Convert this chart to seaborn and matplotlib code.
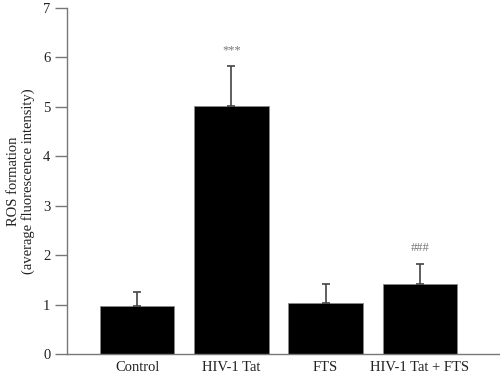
import numpy as np
import pandas as pd
import matplotlib
matplotlib.use("Agg")
import matplotlib.pyplot as plt
import seaborn as sns

groups = ["Control", "HIV-1 Tat", "FTS", "HIV-1 Tat + FTS"]
means = [0.98, 5.02, 1.04, 1.42]
errors = [0.28, 0.80, 0.37, 0.41]
marks = ["", "***", "", "###"]

df = pd.DataFrame({"group": groups, "ros": means})

sns.set_style("white")
plt.rcParams["font.family"] = ["Liberation Serif", "DejaVu Serif"]

fig = plt.figure(figsize=(5, 3.78), dpi=100)
ax = fig.add_axes([0.134, 0.063, 0.866, 0.916])

sns.barplot(data=df, x="group", y="ros", color="black", width=0.79,
            saturation=1, edgecolor="#888888", linewidth=0.6, ax=ax)

x = np.arange(len(groups))
ax.errorbar(x, means, yerr=[np.zeros(len(errors)), errors], fmt="none",
            ecolor="#444444", elinewidth=1.2, capsize=3, capthick=1.2)

for xi, m, e, t in zip(x, means, errors, marks):
    if t:
        ax.text(xi, m + e + 0.2, t, ha="center", va="bottom",
                fontsize=9, color="#777777")

ax.set_ylim(0, 7)
ax.set_xlim(-0.745, 3.85)
ax.set_yticks(range(0, 8))
ax.set_xlabel("")
ax.set_ylabel("ROS formation\n(average fluorescence intensity)", fontsize=10.5,
              color="#222222", labelpad=6, linespacing=1.1)
ax.tick_params(axis="y", direction="out", length=9, width=1, color="#777777",
               labelsize=10.5, labelcolor="#222222", left=True, pad=3)
ax.tick_params(axis="x", length=0, labelsize=10.5, labelcolor="#222222", pad=5)
sns.despine(ax=ax)
for s in ["left", "bottom"]:
    ax.spines[s].set_color("#777777")
    ax.spines[s].set_linewidth(1)

fig.savefig("out.png", dpi=100)
